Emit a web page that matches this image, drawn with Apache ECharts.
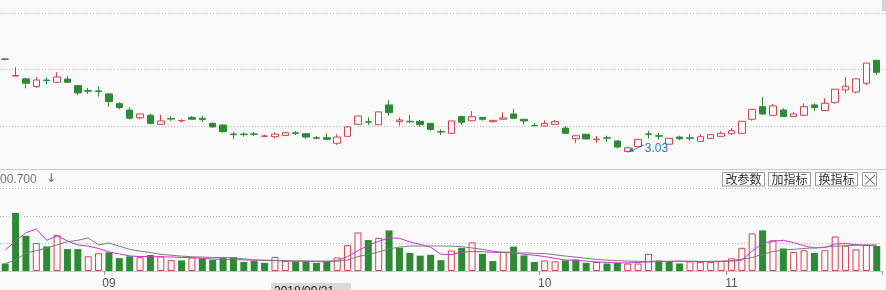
<!DOCTYPE html>
<html><head><meta charset="utf-8">
<script src="https://cdn.jsdelivr.net/npm/echarts/dist/echarts.min.js"></script>
<style>html,body{margin:0;padding:0;background:#fafafa}#c{width:886px;height:290px}</style>
</head><body><div id="c"></div>
<script>
// ---- data ----
const monthLabels = {10: '09', 52: '10', 70: '11'};
const categories = Array.from({length: 85}, (_, i) => 'k' + i);
// [open, close, lowest, highest]
const ohlc = [
[3.527,3.525,3.520,3.530],[3.436,3.439,3.435,3.483],[3.421,3.398,3.371,3.427],[3.380,3.415,3.374,3.430],
[3.415,3.412,3.392,3.430],[3.403,3.431,3.402,3.456],[3.420,3.403,3.399,3.435],[3.385,3.346,3.334,3.389],
[3.358,3.355,3.341,3.373],[3.357,3.354,3.326,3.380],[3.341,3.300,3.273,3.344],[3.289,3.268,3.259,3.296],
[3.255,3.211,3.204,3.270],[3.214,3.234,3.206,3.235],[3.227,3.184,3.179,3.236],[3.179,3.197,3.178,3.229],
[3.210,3.207,3.197,3.222],[3.197,3.199,3.190,3.206],[3.216,3.206,3.204,3.223],[3.211,3.204,3.193,3.225],
[3.184,3.165,3.162,3.189],[3.175,3.140,3.134,3.178],[3.127,3.124,3.101,3.140],[3.127,3.124,3.113,3.136],
[3.128,3.126,3.117,3.138],[3.115,3.117,3.111,3.124],[3.113,3.127,3.104,3.136],[3.120,3.134,3.118,3.138],
[3.134,3.131,3.122,3.143],[3.129,3.111,3.102,3.130],[3.107,3.105,3.099,3.117],[3.108,3.099,3.098,3.131],
[3.078,3.111,3.069,3.126],[3.115,3.165,3.114,3.170],[3.179,3.223,3.178,3.224],[3.192,3.190,3.175,3.216],
[3.177,3.245,3.176,3.246],[3.282,3.241,3.225,3.309],[3.193,3.202,3.172,3.216],[3.195,3.192,3.188,3.229],
[3.195,3.177,3.166,3.202],[3.184,3.152,3.145,3.186],[3.140,3.138,3.122,3.152],[3.131,3.197,3.130,3.198],
[3.220,3.190,3.177,3.225],[3.198,3.220,3.195,3.250],[3.216,3.206,3.198,3.217],[3.193,3.200,3.188,3.201],
[3.206,3.213,3.205,3.243],[3.234,3.211,3.210,3.261],[3.206,3.197,3.177,3.207],[3.173,3.171,3.170,3.186],
[3.170,3.184,3.169,3.200],[3.179,3.193,3.178,3.202],[3.159,3.131,3.130,3.168],[3.102,3.118,3.079,3.119],
[3.126,3.101,3.099,3.127],[3.098,3.100,3.081,3.117],[3.107,3.105,3.086,3.118],[3.090,3.058,3.051,3.095],
[3.034,3.054,3.030,3.060],[3.060,3.099,3.058,3.100],[3.128,3.126,3.104,3.145],[3.118,3.116,3.099,3.134],
[3.073,3.104,3.072,3.105],[3.111,3.102,3.095,3.118],[3.107,3.105,3.092,3.127],[3.088,3.113,3.087,3.126],
[3.104,3.124,3.103,3.125],[3.115,3.131,3.114,3.142],[3.129,3.145,3.122,3.161],[3.131,3.195,3.130,3.196],
[3.206,3.259,3.198,3.260],[3.273,3.234,3.231,3.325],[3.227,3.277,3.226,3.287],[3.255,3.220,3.218,3.264],
[3.220,3.234,3.218,3.245],[3.227,3.273,3.226,3.291],[3.282,3.268,3.250,3.291],[3.252,3.291,3.250,3.318],
[3.296,3.366,3.289,3.367],[3.362,3.382,3.344,3.431],[3.351,3.421,3.344,3.422],[3.398,3.505,3.387,3.506],
[3.520,3.456,3.443,3.521]
];
const volume = [
272,2109,1279,1017,895,1302,797,797,535,646,
679,469,535,502,581,535,394,384,492,469,
403,469,502,328,361,295,515,361,351,351,
295,361,492,941,1401,1125,1204,1476,843,656,
558,590,394,745,843,1040,623,361,699,886,
567,328,384,351,384,417,295,328,272,295,
272,272,623,384,361,272,351,328,328,361,
459,843,1368,1476,1115,820,689,754,656,754,
1256,918,787,951,909];
// 1 = up day (red hollow), -1 = down day (green solid)
const volDir = [
-1,-1,-1,1,-1,1,-1,-1,1,1,
-1,-1,-1,1,-1,1,1,-1,1,-1,
-1,-1,-1,-1,-1,-1,1,1,-1,-1,
-1,-1,1,1,1,-1,1,-1,-1,-1,
-1,-1,-1,1,-1,1,-1,-1,1,-1,
-1,-1,1,1,-1,-1,-1,1,-1,-1,
1,1,1,-1,-1,-1,1,1,1,1,
1,1,1,-1,1,-1,1,1,-1,1,
1,1,1,1,-1];
const volMa5 = [
764,1092,1387,1532,1115,1279,1092,951,902,820,
689,623,548,525,525,515,508,492,492,459,
436,426,417,403,394,384,377,371,361,361,
344,328,377,525,738,935,1082,1204,1191,1059,
968,869,607,600,679,712,699,679,679,679,
607,574,525,459,403,384,361,328,312,295,
295,312,328,344,351,361,351,344,338,344,
361,394,722,1017,1082,1115,1033,918,836,853,
984,1000,951,935,909];
const volMa10 = [
272,394,656,738,836,951,1066,1115,1204,951,
1017,902,787,722,672,607,574,541,515,508,
492,492,482,443,403,394,384,371,361,361,
361,361,361,394,525,607,689,804,869,909,
909,909,909,902,886,836,787,722,672,656,
656,646,633,590,541,508,459,426,394,377,
361,351,351,351,351,351,351,351,354,361,
377,426,492,607,705,764,787,820,843,869,
902,918,935,945,951];
const buttons = ['改参数', '加指标', '换指标'];

// ---- styles ----
const RED = '#d8414e', GREEN = '#2e8b35', BG = '#fafafa', BLUE = '#2479c4';
const dotted = {type: [1, 2], color: '#b8b8b8', width: 1};
const showIdx = (i) => monthLabels[i] !== undefined;
const hidden = {axisLine: {show: false}, axisTick: {show: false}, axisLabel: {show: false}};

const chart = echarts.init(document.getElementById('c'), null, {renderer: 'canvas'});
const btnX = [722.5, 768.5, 815.5];
const graphics = [
  {type: 'line', shape: {x1: 0, y1: 169.5, x2: 886, y2: 169.5}, style: {stroke: '#cccccc', lineWidth: 1}},
  {type: 'rect', shape: {x: 882, y: 0, width: 4, height: 11}, style: {fill: '#d4d4d4'}},
  {type: 'text', x: 0, y: 174, style: {text: '00.700', font: '12px "Liberation Sans"', fill: '#777'}},
  {type: 'text', x: 46, y: 173, style: {text: '↓', font: '12px "DejaVu Sans"', fill: '#666'}},
  {type: 'rect', shape: {x: 271, y: 283, width: 80, height: 12}, style: {fill: '#d9d9d9'}},
  {type: 'text', x: 274, y: 286, style: {text: '2018/09/21', font: '12px "Liberation Sans"', fill: '#222'}},
  {type: 'rect', shape: {x: 862.5, y: 172.5, width: 14, height: 13.5}, style: {fill: '#fcfcfc', stroke: '#9a9a9a', lineWidth: 1}},
  {type: 'line', shape: {x1: 865, y1: 175, x2: 875, y2: 184.5}, style: {stroke: '#555', lineWidth: 1}},
  {type: 'line', shape: {x1: 875, y1: 175, x2: 865, y2: 184.5}, style: {stroke: '#555', lineWidth: 1}}
];
buttons.forEach((b, k) => {
  graphics.push({type: 'rect', shape: {x: btnX[k], y: 172.5, width: 42, height: 13.5}, style: {fill: '#fcfcfc', stroke: '#9a9a9a', lineWidth: 1}});
  graphics.push({type: 'text', x: btnX[k] + 21, y: 179.5, style: {text: b, font: '12px "Noto Sans CJK SC"', fill: '#333', align: 'center', verticalAlign: 'middle'}});
});

chart.setOption({
  animation: false,
  backgroundColor: BG,
  grid: [
    {left: -4.7, right: 4.1, top: 0, height: 169},
    {left: -4.7, right: 4.1, top: 188.5, height: 91.5},
    {left: 0, right: 0, top: 13, height: 113}
  ],
  xAxis: [
    {type: 'category', gridIndex: 0, data: categories, boundaryGap: true, show: false},
    {type: 'category', gridIndex: 1, data: categories, boundaryGap: true,
     axisLine: {lineStyle: {color: '#c8c8c8'}},
     axisTick: {show: true, interval: showIdx, length: 4, lineStyle: {color: '#999'}},
     axisLabel: {interval: showIdx, formatter: (v, i) => monthLabels[i] || '', color: '#555', fontSize: 12, fontFamily: 'Liberation Sans', margin: 7}},
    {type: 'value', gridIndex: 2, min: 0, max: 1, show: false}
  ],
  yAxis: [
    {type: 'value', gridIndex: 0, min: 2.941, max: 3.841, show: false},
    Object.assign({type: 'value', gridIndex: 1, min: 0, max: 3000, interval: 1000, splitLine: {show: true, lineStyle: dotted}}, hidden),
    Object.assign({type: 'value', gridIndex: 2, min: 0, max: 2, interval: 1, splitLine: {show: true, lineStyle: dotted}}, hidden)
  ],
  graphic: graphics,
  series: [
    {type: 'candlestick', xAxisIndex: 0, yAxisIndex: 0, data: ohlc, barWidth: 7,
     itemStyle: {color: BG, color0: GREEN, borderColor: RED, borderColor0: GREEN, borderWidth: 1},
     markPoint: {
       symbol: 'path://M0,8L4.4,3.3L6.4,7.3Z M5,5.6L16,0L16,0.9L5.6,6.3Z',
       symbolSize: [16, 8], symbolOffset: [8, -4],
       itemStyle: {color: BLUE},
       label: {show: true, position: 'right', distance: 1, color: BLUE, fontSize: 12, fontFamily: 'Liberation Sans',
               formatter: p => Number(p.value).toFixed(2)},
       data: [{type: 'min', valueDim: 'lowest'}]
     }},
    {type: 'bar', xAxisIndex: 1, yAxisIndex: 1, barWidth: 7,
     data: volume.map((v, i) => ({value: v, itemStyle: volDir[i] > 0 ? {color: BG, borderColor: RED, borderWidth: 1} : {color: GREEN}}))},
    {type: 'line', xAxisIndex: 1, yAxisIndex: 1, data: volMa5, symbol: 'none', lineStyle: {color: '#d22fd2', width: 1}},
    {type: 'line', xAxisIndex: 1, yAxisIndex: 1, data: volMa10, symbol: 'none', lineStyle: {color: '#7c7c7c', width: 1}}
  ]
});
</script></body></html>
